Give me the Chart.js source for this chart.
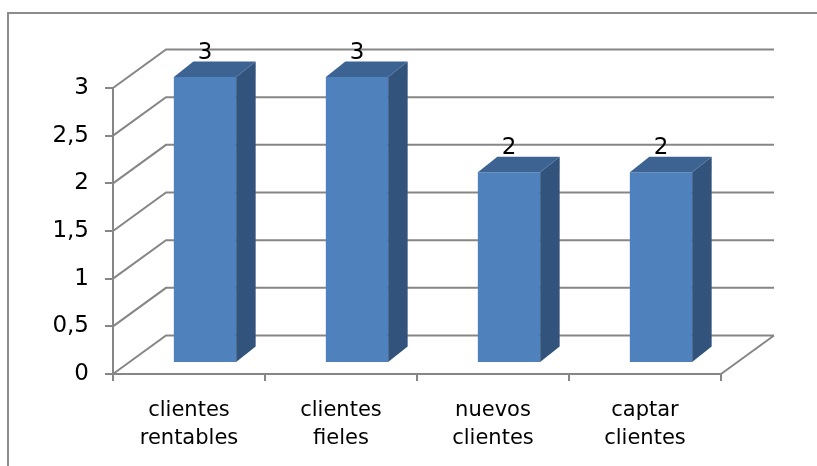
<!DOCTYPE html>
<html>
<head>
<meta charset="utf-8">
<script src="https://cdn.jsdelivr.net/npm/chart.js@4.4.0/dist/chart.umd.min.js"></script>
<style>
  html, body { margin: 0; padding: 0; background: #fff; overflow: hidden; }
</style>
</head>
<body>
<canvas id="chart" width="817" height="466"></canvas>
<script>
const categories = [['clientes', 'rentables'], ['clientes', 'fieles'], ['nuevos', 'clientes'], ['captar', 'clientes']];
const values = [3, 3, 2, 2];
const yTicks = [0, 0.5, 1, 1.5, 2, 2.5, 3];

const FONT = 'DejaVu Sans';
const GRID = '#868686';
const FRONT = '#4f81bd';
const SIDE = '#32537c';
const TOP = '#3c6392';

// depth offsets for the back wall and for the bar blocks
const WALL = { dx: 53, dy: -38.5 };
const SHIFT = { dx: 16, dy: -11 };
const DEPTH = { dx: 19.5, dy: -15.5 };

// outer frame, only its top and left edges fall inside the canvas
const frame = {
  id: 'frame',
  beforeDraw(chart) {
    const ctx = chart.ctx;
    ctx.save();
    ctx.strokeStyle = '#8c8c8c';
    ctx.lineWidth = 2;
    ctx.beginPath();
    ctx.moveTo(8, chart.height + 2);
    ctx.lineTo(8, 13);
    ctx.lineTo(chart.width + 2, 13);
    ctx.stroke();
    ctx.restore();
  }
};

const walls = {
  id: 'walls',
  beforeDatasetsDraw(chart) {
    const { ctx, chartArea: a, scales: { y } } = chart;
    ctx.save();
    ctx.strokeStyle = GRID;
    ctx.lineWidth = 2;
    ctx.beginPath();
    yTicks.forEach(v => {
      const py = y.getPixelForValue(v);
      ctx.moveTo(a.left, py);
      ctx.lineTo(a.left + WALL.dx, py + WALL.dy);
      ctx.lineTo(a.right + WALL.dx, py + WALL.dy);
    });
    const p0 = y.getPixelForValue(0);
    ctx.moveTo(a.right, p0);
    ctx.lineTo(a.right + WALL.dx, p0 + WALL.dy);
    ctx.stroke();
    ctx.restore();
  }
};

const bars3d = {
  id: 'bars3d',
  beforeDatasetDraw(chart) {
    chart.ctx.save();
    chart.ctx.translate(SHIFT.dx, SHIFT.dy);
  },
  afterDatasetDraw(chart, args) {
    const ctx = chart.ctx;
    const data = chart.data.datasets[args.index].data;
    args.meta.data.forEach((bar, i) => {
      const { x, y, base, width } = bar.getProps(['x', 'y', 'base', 'width'], true);
      const l = x - width / 2, r = x + width / 2;
      ctx.fillStyle = SIDE;
      ctx.beginPath();
      ctx.moveTo(r, y);
      ctx.lineTo(r + DEPTH.dx, y + DEPTH.dy);
      ctx.lineTo(r + DEPTH.dx, base + DEPTH.dy);
      ctx.lineTo(r, base);
      ctx.closePath();
      ctx.fill();
      ctx.fillStyle = TOP;
      ctx.beginPath();
      ctx.moveTo(l, y);
      ctx.lineTo(l + DEPTH.dx, y + DEPTH.dy);
      ctx.lineTo(r + DEPTH.dx, y + DEPTH.dy);
      ctx.lineTo(r, y);
      ctx.closePath();
      ctx.fill();
      ctx.fillStyle = '#000';
      ctx.font = '23px "' + FONT + '"';
      ctx.textAlign = 'center';
      ctx.textBaseline = 'alphabetic';
      ctx.fillText(String(data[i]), x, y - 18);
    });
    ctx.restore();
  }
};

new Chart(document.getElementById('chart'), {
  type: 'bar',
  data: {
    labels: categories,
    datasets: [{
      data: values,
      backgroundColor: FRONT,
      borderWidth: 0,
      categoryPercentage: 0.41,
      barPercentage: 1,
      clip: false
    }]
  },
  options: {
    responsive: false,
    animation: false,
    layout: { padding: { left: 0, top: 88, right: 96, bottom: 0 } },
    plugins: { legend: { display: false }, tooltip: { enabled: false } },
    scales: {
      x: {
        grid: { drawOnChartArea: false, tickLength: 7, color: GRID, lineWidth: 2, offset: true },
        border: { display: true, color: GRID, width: 2 },
        ticks: { color: '#000', font: { family: FONT, size: 21, lineHeight: 1.33 }, padding: 16, maxRotation: 0 },
        afterFit(s) { s.height = 92; }
      },
      y: {
        min: 0,
        max: 3,
        grid: { drawOnChartArea: false, tickLength: 8, color: GRID, lineWidth: 2 },
        border: { display: true, color: GRID, width: 2 },
        ticks: {
          stepSize: 0.5,
          color: '#000',
          font: { family: FONT, size: 23 },
          padding: 16,
          callback: v => String(v).replace('.', ',')
        },
        afterFit(s) { s.width = 113; }
      }
    }
  },
  plugins: [frame, walls, bars3d]
});
</script>
</body>
</html>
